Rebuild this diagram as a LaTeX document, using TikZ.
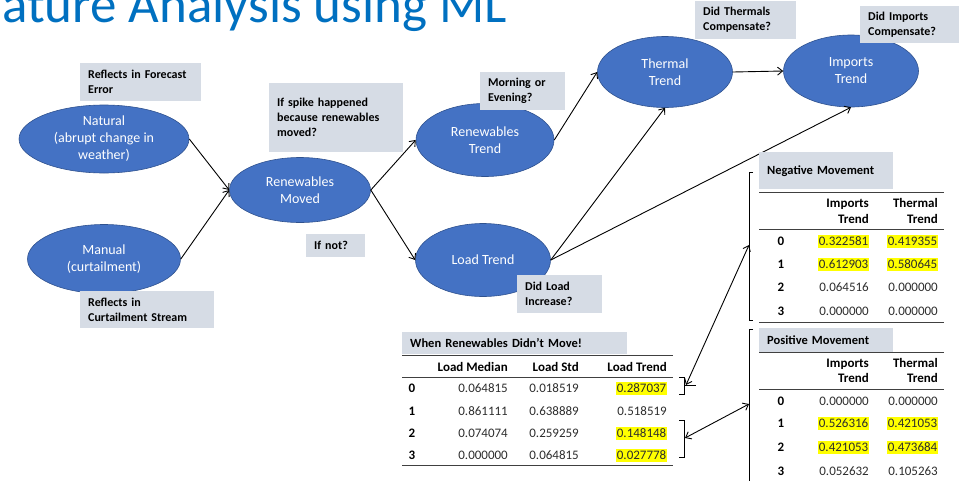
\documentclass[tikz,border=0pt]{standalone}
\usepackage{fontspec}
\setmainfont{Carlito}
\usepackage{tikz}
\usetikzlibrary{shapes.geometric,arrows.meta,positioning}
\definecolor{titleblue}{RGB}{0,112,192}
\definecolor{ovalblue}{RGB}{68,114,196}
\definecolor{ovalline}{RGB}{47,82,143}
\definecolor{notegray}{RGB}{214,220,229}
\definecolor{hlyellow}{RGB}{255,255,0}
\definecolor{valgray}{RGB}{45,45,45}

\begin{document}
\begin{tikzpicture}[
  x=1pt,y=-1pt,
  font=\fontsize{14}{17}\selectfont,
  bubble/.style={ellipse,draw=ovalline,line width=0.6pt,fill=ovalblue,text=white,inner sep=0pt,align=center},
  note/.style={fill=notegray,anchor=north west,align=left,inner xsep=8pt,inner ysep=0pt,font=\fontsize{12}{15}\selectfont\bfseries},
  arr/.style={-{Straight Barb[length=5pt,width=8pt]},line width=0.9pt},
  twoway/.style={{Straight Barb[length=5pt,width=8pt]}-{Straight Barb[length=5pt,width=8pt]},line width=0.9pt},
  num/.style={anchor=base east,inner sep=0pt,text=valgray,font=\fontsize{13}{15}\selectfont},
  hl/.style={num,fill=hlyellow,inner xsep=0.5pt,text height=10pt,text depth=2.5pt},
  idx/.style={anchor=base,inner sep=0pt,font=\fontsize{13}{15}\selectfont\bfseries},
  head/.style={anchor=base east,inner sep=0pt,font=\fontsize{13}{15}\selectfont\bfseries},
  rule/.style={draw=black!75,line width=0.8pt},
  brace/.style={line width=1pt},
]
\useasboundingbox (0,0) rectangle (959,480);

% title (cut at the left edge)
\node[anchor=base west,inner sep=0pt,text=titleblue,font=\fontsize{53}{57}\selectfont] (title) at (2,22) {ature Analysis using ML};

% ovals
\node[bubble,minimum width=170pt,minimum height=68pt] (natural) at (104,139) {Natural\\(abrupt change in\\weather)};
\node[bubble,minimum width=153pt,minimum height=69pt] (manual) at (104,259) {Manual\\(curtailment)};
\node[bubble,minimum width=141pt,minimum height=65pt] (moved) at (300,190) {Renewables\\Moved};
\node[bubble,minimum width=138pt,minimum height=73pt] (rentrend) at (485,140) {Renewables\\Trend};
\node[bubble,minimum width=135pt,minimum height=73pt] (loadtrend) at (483,260) {Load Trend};
\node[bubble,minimum width=135pt,minimum height=71pt] (thermal) at (665,72) {Thermal\\Trend};
\node[bubble,minimum width=135pt,minimum height=72pt] (imports) at (851,71) {Imports\\Trend};

\draw[arr] (natural.east) -- (moved.west);
\draw[arr] (manual.east) -- (moved.west);
\draw[arr] (moved.east) -- (rentrend.west);
\draw[arr] (moved.east) -- (loadtrend.west);
\draw[arr] (rentrend.east) -- (thermal.west);
\draw[arr] (loadtrend.east) -- (thermal.south);
\draw[arr] (loadtrend.east) -- (imports.south);
\draw[arr] (thermal.east) -- (imports.west);

% question boxes
\node[note,text width=105pt,minimum height=38pt] (forecast) at (80,63) {Reflects in Forecast\\Error};
\node[note,text width=118pt,minimum height=37pt] (curtail) at (80,291) {Reflects in\\Curtailment Stream};
\node[note,text width=118pt,minimum height=69pt] (spike) at (269,83) {If spike happened\\because renewables\\moved?};
\node[note,text width=43pt,minimum height=23pt] (ifnot) at (306,234) {If not?};
\node[note,text width=69pt,minimum height=38pt] (morning) at (480,72) {Morning or\\Evening?};
\node[note,text width=69pt,minimum height=38pt] (didload) at (517,275) {Did Load\\Increase?};
\node[note,text width=85pt,minimum height=38pt] (didthermal) at (695,1) {Did Thermals\\Compensate?};
\node[note,text width=83pt,minimum height=37pt] (didimport) at (860,6) {Did Imports\\Compensate?};

% table: renewables did not move
\node[note,text width=209pt,minimum height=22pt,font=\fontsize{12.5}{14}\selectfont\bfseries] (wrhead) at (402,332) {When Renewables Didn’t Move!};
\draw[rule] (402,355) -- (673,355);
\node[head] (wrh1) at (508,371) {Load Median};
\node[head] (wrh2) at (579,371) {Load Std};
\node[head] (wrh3) at (667,371) {Load Trend};
\draw[rule] (402,377) -- (673,377);
\foreach \i/\y/\a/\b/\c/\s in {0/392/0.064815/0.018519/0.287037/hl,
    1/415/0.861111/0.638889/0.518519/num,
    2/437/0.074074/0.259259/0.148148/hl,
    3/459/0.000000/0.064815/0.027778/hl}{
  \node[idx] (wr\i) at (412,\y) {\i};
  \node[num] (wr\i a) at (508,\y) {\a};
  \node[num] (wr\i b) at (579,\y) {\b};
  \node[\s] (wr\i c) at (667,\y) {\c};
}
\draw[rule] (402,465) -- (673,465);

% table: negative movement
\node[note,text width=118pt,minimum height=37pt,font=\fontsize{12.5}{14}\selectfont\bfseries] (neghead) at (759,152) {Negative Movement};
\draw[rule] (759,192) -- (944,192);
\node[head] (negh1) at (869,207) {Imports};
\node[head] (negh1b) at (869,223) {Trend};
\node[head] (negh2) at (938,207) {Thermal};
\node[head] (negh2b) at (938,223) {Trend};
\draw[rule] (759,229) -- (944,229);
\foreach \i/\y/\a/\b/\s in {0/245/0.322581/0.419355/hl,
    1/268/0.612903/0.580645/hl,
    2/291/0.064516/0.000000/num,
    3/315/0.000000/0.000000/num}{
  \node[idx] (neg\i) at (781,\y) {\i};
  \node[\s] (neg\i a) at (869,\y) {\a};
  \node[\s] (neg\i b) at (938,\y) {\b};
}
\draw[rule] (759,322) -- (944,322);

% table: positive movement
\node[note,text width=118pt,minimum height=24pt,font=\fontsize{12.5}{14}\selectfont\bfseries] (poshead) at (759,328) {Positive Movement};
\draw[rule] (759,352) -- (944,352);
\node[head] (posh1) at (869,367) {Imports};
\node[head] (posh1b) at (869,382) {Trend};
\node[head] (posh2) at (938,367) {Thermal};
\node[head] (posh2b) at (938,382) {Trend};
\draw[rule] (759,389) -- (944,389);
\foreach \i/\y/\a/\b/\s in {0/405/0.000000/0.000000/num,
    1/427/0.526316/0.421053/hl,
    2/451/0.421053/0.473684/hl,
    3/475/0.052632/0.105263/num}{
  \node[idx] (pos\i) at (781,\y) {\i};
  \node[\s] (pos\i a) at (869,\y) {\a};
  \node[\s] (pos\i b) at (938,\y) {\b};
}

% brackets and links
\draw[brace] (679,377) -- (684,377) -- (684,394) -- (679,394);
\draw[brace] (684,385) -- (696,385);
\draw[brace] (679,420) -- (684,420) -- (684,457) -- (679,457);
\draw[brace] (753,172) -- (749,172) -- (749,320) -- (753,320);
\draw[brace] (753,329) -- (749,329) -- (749,490);
\coordinate (loadtop) at (686,385);
\coordinate (loadlow) at (685,438);
\coordinate (negside) at (749,245);
\coordinate (posside) at (749,404);
\draw[twoway] (loadtop) -- (negside);
\draw[twoway] (loadlow) -- (posside);
\end{tikzpicture}
\end{document}
